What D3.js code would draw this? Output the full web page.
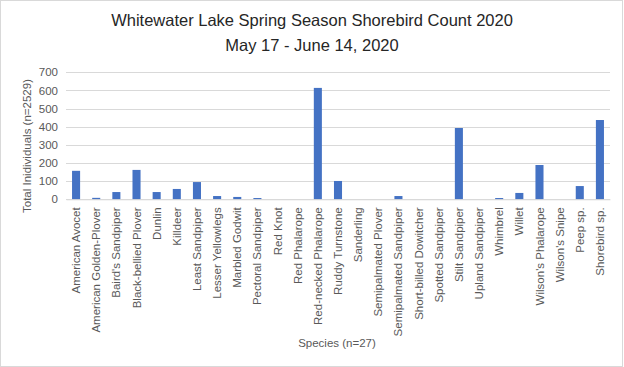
<!DOCTYPE html>
<html><head><meta charset="utf-8">
<script src="https://cdn.jsdelivr.net/npm/d3@7"></script>
<style>body{margin:0;background:#fff}svg{display:block}text{font-family:"Liberation Sans",Arial,sans-serif}</style>
</head><body><svg id="c" width="624" height="367"></svg>
<script>
const species = ["American Avocet","American Golden-Plover","Baird's Sandpiper","Black-bellied Plover","Dunlin","Killdeer","Least Sandpiper","Lesser Yellowlegs","Marbled Godwit","Pectoral Sandpiper","Red Knot","Red Phalarope","Red-necked Phalarope","Ruddy Turnstone","Sanderling","Semipalmated Plover","Semipalmated Sandpiper","Short-billed Dowitcher","Spotted Sandpiper","Stilt Sandpiper","Upland Sandpiper","Whimbrel","Willet","Wilson's Phalarope","Wilson's Snipe","Peep sp.","Shorebird sp."];
const counts = [157,8,40,162,40,57,95,18,13,7,0,0,614,101,0,0,18,0,0,393,0,7,35,189,0,73,437];
const yTicks = [0,100,200,300,400,500,600,700];
const titleLines = ["Whitewater Lake Spring Season Shorebird Count 2020","May 17 - June 14, 2020"];
const yTitle = "Total Inidividuals (n=2529)";
const xTitle = "Species (n=27)";

const svg = d3.select("#c");
const W=624,H=367;
const plot = {left:66,right:610,top:72.3,bottom:199.3};
svg.append("rect").attr("x",0.5).attr("y",0.5).attr("width",W-2).attr("height",H-1).attr("fill","#fff").attr("stroke","#d9d9d9");

const x = d3.scaleBand().domain(species).range([plot.left,plot.right]).paddingInner(0.6).paddingOuter(0.3);
const y = d3.scaleLinear().domain([0,700]).range([plot.bottom,plot.top]);

// gridlines
svg.append("g").selectAll("line").data(yTicks).join("line")
  .attr("x1",plot.left).attr("x2",plot.right)
  .attr("y1",d=>Math.round(y(d))+0.5).attr("y2",d=>Math.round(y(d))+0.5)
  .attr("stroke","#d9d9d9").attr("stroke-width",1);

// y axis labels
const yAxis = d3.axisLeft(y).tickValues(yTicks).tickSize(0).tickPadding(8);
const gy = svg.append("g").attr("transform",`translate(${plot.left},0)`).call(yAxis);
gy.select(".domain").remove();
gy.selectAll("text").attr("font-size",11.5).attr("fill","#595959").attr("font-family","Liberation Sans, Arial, sans-serif");

// bars
svg.append("g").selectAll("rect").data(species).join("rect")
  .attr("x",d=>x(d)).attr("width",x.bandwidth())
  .attr("y",(d,i)=>y(counts[i])).attr("height",(d,i)=>plot.bottom-y(counts[i]))
  .attr("fill","#4472c4");

// x axis
const xAxis = d3.axisBottom(x).tickSize(0).tickPadding(0);
const gx = svg.append("g").attr("transform",`translate(0,${plot.bottom})`).call(xAxis);
gx.select(".domain").attr("stroke","#d9d9d9");
gx.selectAll("text").attr("font-size",11.5).attr("fill","#595959").attr("font-family","Liberation Sans, Arial, sans-serif")
  .attr("text-anchor","end").attr("dy","0.35em")
  .attr("transform","translate(0,8) rotate(-90)").attr("x",0).attr("y",0);

// titles
svg.append("g").selectAll("text").data(titleLines).join("text")
  .attr("x",312).attr("y",(d,i)=>26+i*25).attr("text-anchor","middle")
  .attr("font-size",16.5).attr("fill","#262626").text(d=>d);

svg.append("text").attr("transform","translate(31,146) rotate(-90)").attr("text-anchor","middle")
  .attr("font-size",11.5).attr("fill","#595959").text(yTitle);
svg.append("text").attr("x",337).attr("y",347).attr("text-anchor","middle")
  .attr("font-size",11.5).attr("fill","#595959").text(xTitle);
</script></body></html>
